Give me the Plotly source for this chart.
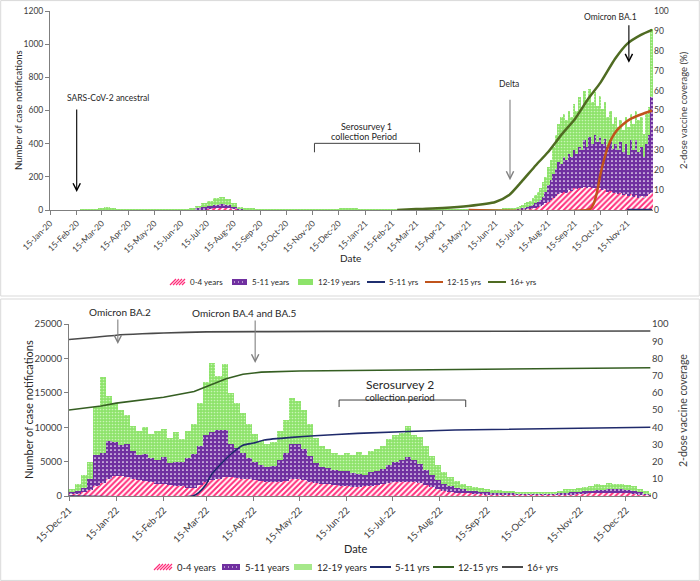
import pandas as pd
import plotly.graph_objects as go

# ---------------- TOP PANEL DATA (daily case notifications, averaged per bin) ----------------
# weekly bins 15-Jan-2020 .. 30-Jun-2021
top_wk_start = "2020-01-15"
top_wk_0_4 = [0, 0, 0, 0, 0, 0, 0, 0, 1, 1,
              1, 0, 0, 0, 0, 0, 0, 0, 0, 0,
              0, 0, 1, 2, 3, 5, 7, 10, 12, 10,
              7, 4, 2, 1, 1, 0, 0, 0, 0, 0,
              0, 0, 0, 0, 0, 0, 0, 1, 1, 1,
              1, 1, 0, 0, 0, 0, 0, 0, 0, 0,
              0, 0, 0, 0, 0, 0, 0, 0, 0, 0,
              0, 0, 0, 1, 1, 1]
top_wk_5_11 = [0, 0, 0, 0, 0, 0, 0, 1, 2, 3,
               2, 1, 1, 1, 0, 0, 1, 0, 0, 1,
               0, 1, 1, 3, 8, 12, 18, 22, 25, 20,
               13, 7, 3, 2, 1, 1, 1, 1, 1, 0,
               0, 0, 1, 0, 1, 1, 1, 1, 2, 2,
               2, 1, 1, 1, 0, 1, 0, 0, 0, 0,
               0, 0, 0, 1, 0, 0, 0, 0, 1, 1,
               0, 1, 1, 1, 1, 2]
top_wk_12_19 = [0, 0, 0, 0, 0, 1, 1, 3, 8, 12,
                8, 4, 2, 2, 1, 1, 1, 1, 1, 1,
                1, 2, 3, 8, 15, 25, 30, 38, 40, 35,
                20, 10, 6, 4, 3, 2, 2, 1, 1, 1,
                1, 1, 1, 1, 1, 1, 2, 3, 4, 5,
                4, 3, 2, 1, 1, 1, 1, 1, 1, 0,
                1, 1, 1, 1, 1, 1, 1, 1, 1, 1,
                1, 1, 2, 2, 3, 5]
# 3-day bins 30-Jun-2021 .. 15-Dec-2021
top_3d_start = "2021-06-30"
top_3d_0_4 = [1, 1, 2, 2, 3, 4, 5, 7, 9, 12,
              15, 20, 25, 30, 40, 50, 60, 75, 85, 95,
              100, 110, 105, 120, 115, 130, 125, 135, 130, 140,
              130, 140, 130, 135, 125, 130, 120, 125, 110, 115,
              100, 105, 95, 100, 90, 95, 85, 95, 80, 90,
              75, 85, 70, 85, 95, 100]
top_3d_5_11 = [2, 3, 3, 4, 5, 6, 10, 13, 16, 18,
               25, 30, 35, 50, 70, 100, 120, 145, 165, 195,
               180, 210, 195, 220, 205, 230, 215, 245, 230, 280,
               250, 300, 270, 315, 285, 310, 280, 305, 270, 305,
               270, 295, 265, 310, 260, 305, 245, 325, 280, 330,
               275, 295, 250, 315, 355, 580]
top_3d_12_19 = [7, 8, 10, 14, 17, 20, 25, 30, 30, 40,
                50, 60, 70, 90, 90, 110, 120, 160, 200, 230,
                280, 260, 240, 260, 240, 280, 260, 300, 260, 300,
                280, 290, 250, 260, 220, 250, 210, 220, 180, 180,
                150, 160, 140, 130, 130, 160, 170, 160, 160, 180,
                190, 180, 140, 180, 170, 410]

# top coverage (%)
top_cov16_dates = ["2021-02-21", "2021-03-15", "2021-04-15", "2021-05-15", "2021-06-15", "2021-07-01",
                   "2021-07-15", "2021-08-01", "2021-08-15", "2021-09-01", "2021-09-15", "2021-10-01",
                   "2021-10-15", "2021-11-01", "2021-11-15", "2021-12-01", "2021-12-14"]
top_cov16 = [0, 0.5, 1, 2, 4, 7.5, 14, 22.5, 29, 38.5, 45.5, 56, 64, 76, 83.5, 88, 90.5]
top_cov1215_dates = ["2021-05-15", "2021-10-03", "2021-10-07", "2021-10-11", "2021-10-15", "2021-10-19",
                     "2021-10-23", "2021-10-28", "2021-11-03", "2021-11-10", "2021-11-20", "2021-12-01",
                     "2021-12-14"]
top_cov1215 = [0, 0.5, 3, 9, 18, 25, 31, 36, 40, 43, 46, 48, 50]
top_cov511_dates = ["2021-11-15", "2021-12-14"]
top_cov511 = [0, 0]

# ---------------- BOTTOM PANEL DATA (4-day bins from 15-Dec-2021) ----------------
bot_start = "2021-12-15"
bot_0_4 = [250, 350, 550, 900, 1400, 1900, 2400, 2900, 2900, 2800,
           2500, 2300, 2200, 2000, 1800, 1700, 1600, 1500, 1400, 1200,
           1200, 1600, 2000, 2300, 2500, 2700, 2700, 2600, 2500, 2400,
           2300, 2200, 2100, 2000, 2100, 2200, 2400, 2500, 2300, 2100,
           1900, 1800, 1700, 1600, 1500, 1500, 1300, 1300, 1400, 1500,
           1600, 1700, 1900, 2000, 2100, 2100, 2000, 1900, 1600, 1300,
           1000, 800, 650, 500, 420, 370, 320, 300, 260, 230,
           210, 200, 180, 170, 160, 150, 150, 150, 160, 170,
           200, 240, 270, 300, 330, 380, 420, 430, 460, 450,
           440, 400, 350, 280, 200, 130]
bot_5_11 = [400, 400, 650, 1600, 4600, 4400, 5600, 4900, 4500, 4800,
            4000, 3700, 3900, 3500, 3400, 3900, 3200, 3500, 3500, 4300,
            4900, 5600, 6800, 7000, 7100, 6900, 4800, 4400, 3800, 3100,
            2700, 2300, 2100, 2400, 3100, 4000, 5100, 5100, 4500, 3700,
            2900, 2400, 2300, 2200, 2100, 2200, 2000, 1900, 1700, 2000,
            2100, 2200, 2600, 3000, 3100, 3500, 3200, 2800, 2200, 1700,
            1300, 1000, 750, 600, 530, 430, 380, 350, 290, 270,
            240, 220, 200, 180, 160, 150, 150, 140, 140, 160,
            200, 260, 280, 300, 370, 420, 480, 470, 540, 500,
            510, 450, 350, 270, 150, 120]
bot_12_19 = [350, 950, 1800, 2500, 7000, 11000, 6500, 5700, 5100, 4200,
             3700, 3500, 3900, 3500, 4300, 4200, 3700, 4300, 3400, 3900,
             4400, 6300, 7700, 10000, 7900, 9600, 7500, 6500, 5700, 5000,
             4000, 3500, 3300, 3400, 4300, 4800, 6800, 6200, 5700, 4700,
             3700, 3000, 2800, 2500, 2400, 2500, 2700, 3200, 2900, 3100,
             3100, 3300, 3800, 3800, 4000, 4600, 3600, 3900, 3400, 2800,
             2200, 1700, 1400, 1100, 850, 700, 600, 550, 450, 400,
             400, 380, 320, 300, 280, 280, 250, 260, 300, 320,
             400, 450, 500, 550, 600, 700, 800, 700, 900, 750,
             850, 750, 700, 450, 350, 200]

bot_cov16_dates = ["2021-12-15", "2022-01-01", "2022-01-15", "2022-02-01", "2022-02-15", "2022-03-15",
                   "2022-06-01", "2022-12-31"]
bot_cov16 = [91, 92.3, 93.5, 94.3, 94.8, 95.4, 95.7, 95.9]
bot_cov1215_dates = ["2021-12-15", "2022-01-05", "2022-01-15", "2022-02-15", "2022-03-07", "2022-03-19",
                     "2022-03-28", "2022-04-08", "2022-04-20", "2022-05-15", "2022-06-20", "2022-12-31"]
bot_cov1215 = [50, 52.3, 54, 57.4, 60.7, 65, 68.2, 70.8, 72, 72.7, 73, 74.6]
bot_cov511_dates = ["2021-12-15", "2022-03-06", "2022-03-10", "2022-03-15", "2022-03-18", "2022-03-25",
                    "2022-04-01", "2022-04-08", "2022-04-15", "2022-04-22", "2022-05-10", "2022-05-25",
                    "2022-06-22", "2022-08-25", "2022-12-31"]
bot_cov511 = [0, 0, 2, 7, 12, 19, 25, 29.5, 30.8, 32.6, 34.1, 35, 36.4, 38.4, 40]

# ---------------- build bins ----------------
DAY = 86400000
wk_dates = list(pd.date_range(top_wk_start, periods=len(top_wk_0_4), freq="7D"))
d3_dates = list(pd.date_range(top_3d_start, periods=len(top_3d_0_4), freq="3D"))
top_x = wk_dates + d3_dates
top_w = [7 * DAY] * len(wk_dates) + [3 * DAY] * len(d3_dates)
top_s = {"0-4": top_wk_0_4 + top_3d_0_4,
         "5-11": top_wk_5_11 + top_3d_5_11,
         "12-19": top_wk_12_19 + top_3d_12_19}
bot_x = list(pd.date_range(bot_start, periods=len(bot_0_4), freq="4D"))
bot_w = [4 * DAY] * len(bot_x)
bot_s = {"0-4": bot_0_4, "5-11": bot_5_11, "12-19": bot_12_19}

FONT = "Lato, 'Open Sans', Arial, sans-serif"
PINK = "#ff2d7a"
PURPLE = "#7030a0"
GREEN = "#8de36a"
TOP_LINE_COLORS = {"5-11 yrs": "#1f2f6f", "12-15 yrs": "#c0531b", "16+ yrs": "#4f6b22"}
BOT_LINE_COLORS = {"5-11 yrs": "#1f2a6b", "12-15 yrs": "#355e22", "16+ yrs": "#4a4a4a"}

def bar_style(name):
    if name == "0-4":
        return dict(color="white", line=dict(width=0),
                    pattern=dict(shape="/", fgcolor=PINK, bgcolor="white", size=4, solidity=0.5,
                                 fillmode="replace"))
    if name == "5-11":
        return dict(color=PURPLE, line=dict(width=0),
                    pattern=dict(shape=".", fgcolor="white", bgcolor=PURPLE, size=4, solidity=0.15,
                                 fillmode="replace"))
    return dict(color=GREEN, line=dict(width=0),
                pattern=dict(shape=".", fgcolor="#c8f5b5", bgcolor=GREEN, size=3, solidity=0.25,
                             fillmode="replace"))

fig = go.Figure()
for key, label in [("0-4", "0-4 years"), ("5-11", "5-11 years"), ("12-19", "12-19 years")]:
    fig.add_trace(go.Bar(x=top_x, y=top_s[key], width=top_w, offset=0, name=label,
                         marker=bar_style(key), xaxis="x", yaxis="y", showlegend=False))
fig.add_trace(go.Scatter(x=top_cov511_dates, y=top_cov511, mode="lines", name="5-11 yrs",
                         line=dict(color=TOP_LINE_COLORS["5-11 yrs"], width=2.5),
                         xaxis="x", yaxis="y2", showlegend=False))
fig.add_trace(go.Scatter(x=top_cov1215_dates, y=top_cov1215, mode="lines", name="12-15 yrs",
                         line=dict(color=TOP_LINE_COLORS["12-15 yrs"], width=2.5, shape="spline", smoothing=0.6),
                         xaxis="x", yaxis="y2", showlegend=False))
fig.add_trace(go.Scatter(x=top_cov16_dates, y=top_cov16, mode="lines", name="16+ yrs",
                         line=dict(color=TOP_LINE_COLORS["16+ yrs"], width=2.5, shape="spline", smoothing=0.6),
                         xaxis="x", yaxis="y2", showlegend=False))

for key, label in [("0-4", "0-4 years"), ("5-11", "5-11 years"), ("12-19", "12-19 years")]:
    fig.add_trace(go.Bar(x=bot_x, y=bot_s[key], width=bot_w, offset=0, name=label,
                         marker=bar_style(key), xaxis="x2", yaxis="y3", showlegend=False))
fig.add_trace(go.Scatter(x=bot_cov511_dates, y=bot_cov511, mode="lines", name="5-11 yrs",
                         line=dict(color=BOT_LINE_COLORS["5-11 yrs"], width=1.6, shape="spline", smoothing=0.5),
                         xaxis="x2", yaxis="y4", showlegend=False))
fig.add_trace(go.Scatter(x=bot_cov1215_dates, y=bot_cov1215, mode="lines", name="12-15 yrs",
                         line=dict(color=BOT_LINE_COLORS["12-15 yrs"], width=1.6),
                         xaxis="x2", yaxis="y4", showlegend=False))
fig.add_trace(go.Scatter(x=bot_cov16_dates, y=bot_cov16, mode="lines", name="16+ yrs",
                         line=dict(color=BOT_LINE_COLORS["16+ yrs"], width=1.6, shape="spline", smoothing=0.5),
                         xaxis="x2", yaxis="y4", showlegend=False))

W, H = 700, 581
def px(x): return x / W
def py(y): return 1 - y / H

top_ticks = [d + pd.Timedelta(days=14) for d in pd.date_range("2020-01-01", "2021-11-01", freq="MS")]
bot_ticks = [d + pd.Timedelta(days=14) for d in pd.date_range("2021-12-01", "2022-12-01", freq="MS")]

axcol = "#7f7f7f"
tickfont = dict(family=FONT, size=8.5, color="#404040")
fig.update_layout(
    width=W, height=H, margin=dict(l=0, r=0, t=0, b=0, autoexpand=False),
    paper_bgcolor="white", plot_bgcolor="white", showlegend=False,
    barmode="stack", bargap=0, font=dict(family=FONT, color="#262626"),
    xaxis=dict(domain=[px(50), px(653)], anchor="y", type="date", automargin=False,
               range=["2020-01-15", "2021-12-15"], tickvals=top_ticks, tickformat="%d-%b-%y",
               tickangle=-45, ticks="outside", ticklen=4, tickcolor=axcol, showline=True,
               linecolor=axcol, linewidth=1, showgrid=False, zeroline=False, tickfont=tickfont),
    yaxis=dict(domain=[py(210), py(11)], anchor="x", range=[0, 1200], dtick=200, automargin=False,
               ticks="outside", ticklen=4, tickcolor=axcol, showline=True, linecolor=axcol,
               showgrid=False, zeroline=False, tickfont=tickfont),
    yaxis2=dict(overlaying="y", side="right", anchor="x", range=[0, 100], dtick=10, automargin=False,
                showgrid=False, zeroline=False, showline=False, ticks="", tickfont=tickfont),
    xaxis2=dict(domain=[px(69), px(651)], anchor="y3", type="date", automargin=False,
                range=["2021-12-15", "2022-12-31 10:00"], tickvals=bot_ticks, tickformat="%d-%b-%y",
                tickangle=-45, ticks="outside", ticklen=4, tickcolor=axcol, showline=True,
                linecolor=axcol, linewidth=1, showgrid=False, zeroline=False,
                tickfont=dict(family=FONT, size=9.5, color="#404040")),
    yaxis3=dict(domain=[py(496), py(324)], anchor="x2", range=[0, 25000], dtick=5000, automargin=False,
                tickformat="d", ticks="outside", ticklen=4, tickcolor=axcol, showline=True,
                linecolor=axcol, showgrid=False, zeroline=False,
                tickfont=dict(family=FONT, size=9.5, color="#404040")),
    yaxis4=dict(overlaying="y3", side="right", anchor="x2", range=[0, 100], dtick=10, automargin=False,
                showgrid=False, zeroline=False, showline=False, ticks="",
                tickfont=dict(family=FONT, size=9.5, color="#404040")),
)

ann = []
shapes = []
def text(x, y, s, size, xref="paper", yref="paper", xanchor="center", **kw):
    ann.append(dict(x=x, y=y, xref=xref, yref=yref, text=s, showarrow=False,
                    xanchor=xanchor, yanchor="middle",
                    font=dict(family=FONT, size=size, color=kw.pop("color", "#262626")), **kw))

def arrow(x, y, xref, yref, length, color):
    ann.append(dict(x=x, y=y, xref=xref, yref=yref, text="", showarrow=True, ax=0, ay=-length,
                    arrowhead=5, arrowsize=1.3, arrowwidth=1.1, arrowcolor=color))

def pline(x0, y0, x1, y1, color, width=1):
    shapes.append(dict(type="line", xref="paper", yref="paper", x0=px(x0), y0=py(y0),
                       x1=px(x1), y1=py(y1), line=dict(color=color, width=width)))

def prect(x0, y0, x1, y1, fill):
    shapes.append(dict(type="rect", xref="paper", yref="paper", x0=px(x0), y0=py(y1),
                       x1=px(x1), y1=py(y0), fillcolor=fill, line=dict(width=0)))

# ---------- custom legends (compact, like the original) ----------
def legend_row(yc, xs, labels, kinds, colors, size, sw, sh):
    for x, lab, kind, col in zip(xs, labels, kinds, colors):
        if kind == "hatch":
            k = 0
            while k < sw:
                pline(x + k, yc + sh / 2, x + min(k + sh, sw), yc - sh / 2 + max(0, k + sh - sw), col, 1.3)
                k += 3
        elif kind == "dots":
            prect(x, yc - sh / 2, x + sw, yc + sh / 2, col)
            for j in range(2, int(sw) - 1, 4):
                prect(x + j, yc - 0.5, x + j + 1, yc + 0.5, "white")
        elif kind == "solid":
            prect(x, yc - sh / 2, x + sw, yc + sh / 2, col)
        else:
            pline(x, yc, x + sw + 3, yc, col, 2)
        text(px(x + sw + (5 if kind == "line" else 3)), py(yc), lab, size, xanchor="left")

top_leg_labels = ["0-4 years", "5-11 years", "12-19 years", "5-11 yrs", "12-15 yrs", "16+ yrs"]
kinds = ["hatch", "dots", "solid", "line", "line", "line"]
legend_row(282, [170, 232, 298, 367, 425, 488], top_leg_labels, kinds,
           [PINK, PURPLE, GREEN] + [TOP_LINE_COLORS[k] for k in top_leg_labels[3:]], 8, 15, 6)
legend_row(567, [154, 222, 294, 370, 433, 502], top_leg_labels, kinds,
           [PINK, PURPLE, "#a6e88a"] + [BOT_LINE_COLORS[k] for k in top_leg_labels[3:]], 9.5, 18, 6)

# axis titles
text(px(350), py(258), "Date", 10)
text(px(18), py(110), "Number of case notifications", 9.5, textangle=-90)
text(px(683), py(110), "2-dose vaccine coverage (%)", 9.5, textangle=-90, color="#404040")
text(px(356), py(548), "Date", 11)
text(px(28), py(410), "Number of case notifications", 11, textangle=-90)
text(px(683), py(411), "2-dose vaccine coverage", 10.5, textangle=-90, color="#404040")

# top event labels
text(px(108), py(98), "SARS-CoV-2 ancestral", 8.5)
arrow("2020-02-15", 108, "x", "y", 84, "#000000")
text(px(367), py(126), "Serosurvey 1", 9)
text(px(364), py(137), "collection Period", 9)
text(px(509), py(84), "Delta", 8.5)
arrow("2021-07-02", 180, "x", "y", 82, "#808080")
text(px(610), py(17), "Omicron BA.1", 8.5)
arrow("2021-11-17", 888, "x", "y", 39, "#000000")

# bottom event labels
text(px(120), py(312), "Omicron BA.2", 10)
arrow("2022-01-16", 22085, "x2", "y3", 26, "#808080")
text(px(245), py(313), "Omicron BA.4 and BA.5", 10)
arrow("2022-04-16", 19325, "x2", "y3", 44, "#808080")
text(px(400), py(384), "Serosurvey 2", 12)
text(px(400), py(397.5), "collection period", 9.5)
fig.update_layout(annotations=ann)

def bracket(x0, x1, ytop, ybot, xref, yref, color):
    for (a, b, c, d) in [(x0, ybot, x0, ytop), (x0, ytop, x1, ytop), (x1, ytop, x1, ybot)]:
        shapes.append(dict(type="line", x0=a, y0=b, x1=c, y1=d, xref=xref, yref=yref,
                           line=dict(color=color, width=1)))
bracket("2020-11-17", "2021-03-19", 402, 348, "x", "y", "#404040")
bracket("2022-06-10", "2022-09-01", 13950, 12930, "x2", "y3", "#404040")
# panel frames
shapes.append(dict(type="rect", xref="paper", yref="paper", x0=0.001, x1=0.999, y0=py(296), y1=0.999,
                   line=dict(color="#d9d9d9", width=1)))
shapes.append(dict(type="rect", xref="paper", yref="paper", x0=0.001, x1=0.999, y0=0.001, y1=py(299),
                   line=dict(color="#d9d9d9", width=1)))
fig.update_layout(shapes=shapes)

fig.write_html("out.html", config={"displayModeBar": False},
               post_script="document.body.style.margin='0px';document.body.style.overflow='hidden';")
